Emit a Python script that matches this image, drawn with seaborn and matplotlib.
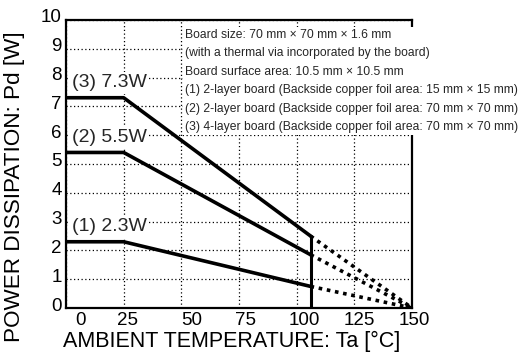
import matplotlib
matplotlib.use("Agg")
import matplotlib.pyplot as plt
import matplotlib.transforms as mtransforms
import pandas as pd
import seaborn as sns

# derating curves
board_labels = ["(1) 2.3W", "(2) 5.5W", "(3) 7.3W"]
pd_rated = [2.3, 5.4, 7.3]        # W, flat part up to the knee
pd_at_cutoff = [0.75, 1.85, 2.5]  # W, at the vertical cutoff
temp_knee = 25
temp_cutoff = 106
temp_max = 150

x_ticks = [0, 25, 50, 75, 100, 125, 150]
y_ticks = list(range(0, 11))

note_lines = [
    "Board size: 70 mm \u00d7 70 mm \u00d7 1.6 mm",
    "(with a thermal via incorporated by the board)",
    "Board surface area: 10.5 mm \u00d7 10.5 mm",
    "(1) 2-layer board (Backside copper foil area: 15 mm \u00d7 15 mm)",
    "(2) 2-layer board (Backside copper foil area: 70 mm \u00d7 70 mm)",
    "(3) 4-layer board (Backside copper foil area: 70 mm \u00d7 70 mm)",
]

sns.set_theme(style="white")
plt.rcParams["font.family"] = ["Liberation Sans", "DejaVu Sans"]

fig = plt.figure(figsize=(5.22, 3.63), dpi=100)
ax = fig.add_axes([0.1264, 0.1515, 0.663, 0.7935])

solid_rows, dotted_rows = [], []
for lab, p0, p1 in zip(board_labels, pd_rated, pd_at_cutoff):
    for t, p in [(0, p0), (temp_knee, p0), (temp_cutoff, p1)]:
        solid_rows.append({"board": lab, "Ta": t, "Pd": p})
    for t, p in [(temp_cutoff, p1), (temp_max, 0)]:
        dotted_rows.append({"board": lab, "Ta": t, "Pd": p})
solid = pd.DataFrame(solid_rows)
dotted = pd.DataFrame(dotted_rows)
cutoff = pd.DataFrame({"Ta": [temp_cutoff, temp_cutoff],
                       "Pd": [0, max(pd_at_cutoff)]})

sns.lineplot(data=solid, x="Ta", y="Pd", units="board", estimator=None,
             sort=False, color="black", linewidth=2.6, ax=ax, zorder=3)
sns.lineplot(data=dotted, x="Ta", y="Pd", units="board", estimator=None,
             sort=False, color="black", linewidth=2.6, linestyle=(0, (1, 1.3)),
             ax=ax, zorder=3)
sns.lineplot(data=cutoff, x="Ta", y="Pd", estimator=None, sort=False,
             color="black", linewidth=2.2, ax=ax, zorder=3)

for lab, p0 in zip(board_labels, pd_rated):
    ax.text(2.5, p0 + 0.22, lab, fontsize=14, va="bottom", ha="left",
            zorder=2, bbox=dict(fc="white", ec="none", pad=2))

# note box sits on top of the right spine, as in the datasheet
ax.text(51.5, 9.69, "\n".join(note_lines), fontsize=8.7, va="top", ha="left",
        linespacing=1.72, zorder=5, clip_on=False,
        bbox=dict(fc="white", ec="none", pad=1.5))

ax.set_xlim(0, temp_max)
ax.set_ylim(0, 10)
ax.set_xticks(x_ticks)
ax.set_yticks(y_ticks)
ax.set_axisbelow(True)
ax.grid(True, color="black", linestyle=(0, (1, 2)), linewidth=0.9)
ax.tick_params(length=0, labelsize=13.5, pad=3, colors="black")
for s in ax.spines.values():
    s.set_color("black")
    s.set_linewidth(1.6)

# tick labels in the original sit a little off their grid lines
x_shift_px = [15, 4, 10, 6, 8, 5, 2]
for t, sh in zip(ax.get_xticklabels(), x_shift_px):
    off = mtransforms.ScaledTranslation(sh / 100, 0, fig.dpi_scale_trans)
    t.set_transform(t.get_transform() + off)
dy = mtransforms.ScaledTranslation(0, 4 / 100, fig.dpi_scale_trans)
for t in ax.get_yticklabels():
    t.set_transform(t.get_transform() + dy)

ax.set_xlabel("AMBIENT TEMPERATURE: Ta [\u00b0C]", fontsize=15.5, labelpad=0,
              color="black")
ax.set_ylabel("POWER DISSIPATION: Pd [W]", fontsize=16.2, labelpad=2,
              color="black")
ax.xaxis.set_label_coords(0.48, -0.08)
ax.yaxis.set_label_coords(-0.118, 0.42)

fig.savefig("out.png", dpi=100)
